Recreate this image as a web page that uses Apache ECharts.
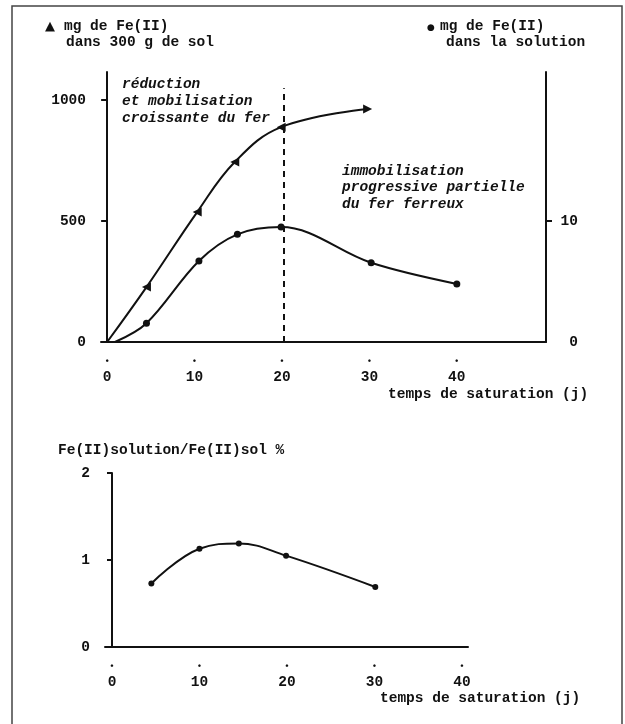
<!DOCTYPE html>
<html>
<head>
<meta charset="utf-8">
<script src="https://cdn.jsdelivr.net/npm/echarts@6/dist/echarts.min.js"></script>
<style>
html,body{margin:0;padding:0;background:#fff;}
#c{width:625px;height:724px;}
</style>
</head>
<body>
<div id="c"></div>
<script>
// ---- data ----
const dayTicks = [0, 10, 20, 30, 40];
const soilTicks = [0, 500, 1000];
const solTicks = [0, 10];
const ratioTicks = [0, 1, 2];

const soilDays = [0, 4.5, 10.3, 14.6, 19.9, 29.8];
const soilFe   = [0, 227, 537, 744, 888, 963];

const solDays = [0.9, 4.5, 10.5, 14.9, 19.9, 30.2, 40.0];
const solFe   = [0, 1.55, 6.7, 8.9, 9.5, 6.55, 4.8];

const ratioDays = [4.5, 10.0, 14.5, 19.9, 30.1];
const ratioPct  = [0.73, 1.13, 1.19, 1.05, 0.69];

const dividerDay = 20.2;
const dividerTop = 1049;

// ---- styles ----
const FONT = '"Liberation Mono", "DejaVu Sans Mono", monospace';
const FS = 14.5;
const INK = '#111';

function pairs(xs, ys, noFirstSymbol) {
  return xs.map((x, i) => {
    const item = { value: [x, ys[i]] };
    if (noFirstSymbol && i === 0) item.symbol = 'none';
    return item;
  });
}

const soilData = pairs(soilDays, soilFe, true).map((d, i, arr) => {
  if (i > 0) d.symbolRotate = (i === arr.length - 1) ? -90 : 90;
  return d;
});

const plain = v => String(v);

const dotLabel = {
  customValues: dayTicks,
  margin: 13,
  color: INK,
  fontFamily: FONT,
  fontWeight: 'bold',
  verticalAlign: 'top',
  formatter: v => '{d|•}\n{v|' + v + '}',
  rich: {
    d: { fontSize: 9, lineHeight: 14, fontFamily: FONT, color: INK },
    v: { fontSize: FS, lineHeight: 16, fontFamily: FONT, fontWeight: 'bold', color: INK }
  }
};

const axisLineStyle = { show: true, lineStyle: { color: INK, width: 2 } };

function txt(x, y, text, extra) {
  return {
    type: 'text', x: x, y: y, silent: true,
    style: Object.assign({
      text: text, fill: INK, font: 'bold ' + FS + 'px ' + FONT,
      verticalAlign: 'middle', align: 'left'
    }, extra || {})
  };
}

const option = {
  animation: false,
  backgroundColor: '#fff',
  grid: [
    { left: 101, top: 72, width: 445, height: 270 },
    { left: 105, top: 473, width: 363, height: 174 }
  ],
  xAxis: [
    {
      gridIndex: 0, type: 'value', min: -0.7, max: 50.2,
      axisLine: axisLineStyle, axisTick: { show: false },
      splitLine: { show: false }, axisLabel: dotLabel
    },
    {
      gridIndex: 1, type: 'value', min: -0.8, max: 40.7,
      axisLine: axisLineStyle, axisTick: { show: false },
      splitLine: { show: false }, axisLabel: dotLabel
    }
  ],
  yAxis: [
    {
      gridIndex: 0, type: 'value', position: 'left', min: 0, max: 1116,
      axisLine: axisLineStyle,
      axisTick: { show: true, customValues: soilTicks, length: 6, lineStyle: { color: INK, width: 2 } },
      axisLabel: { customValues: soilTicks, formatter: plain, margin: 15, color: INK, fontFamily: FONT, fontWeight: 'bold', fontSize: FS },
      splitLine: { show: false }
    },
    {
      gridIndex: 0, type: 'value', position: 'right', min: 0, max: 22.32,
      axisLine: axisLineStyle,
      axisTick: { show: true, customValues: [10], length: 6, lineStyle: { color: INK, width: 2 } },
      axisLabel: { customValues: solTicks, formatter: plain, margin: 32, align: 'right', color: INK, fontFamily: FONT, fontWeight: 'bold', fontSize: FS },
      splitLine: { show: false }
    },
    {
      gridIndex: 1, type: 'value', position: 'left', min: 0, max: 2,
      axisLine: axisLineStyle,
      axisTick: { show: true, customValues: ratioTicks, length: 5, lineStyle: { color: INK, width: 2 } },
      axisLabel: { customValues: ratioTicks, formatter: plain, margin: 15, color: INK, fontFamily: FONT, fontWeight: 'bold', fontSize: FS },
      splitLine: { show: false }
    }
  ],
  series: [
    {
      name: 'mg de Fe(II) dans 300 g de sol', type: 'line',
      xAxisIndex: 0, yAxisIndex: 0, smooth: 0.4,
      data: soilData, symbol: 'triangle', symbolSize: 9,
      lineStyle: { color: INK, width: 2 }, itemStyle: { color: INK },
      markLine: {
        silent: true, symbol: 'none', label: { show: false },
        lineStyle: { color: INK, width: 2, type: [6, 5] },
        data: [[{ coord: [dividerDay, 0] }, { coord: [dividerDay, dividerTop] }]]
      }
    },
    {
      name: 'mg de Fe(II) dans la solution', type: 'line',
      xAxisIndex: 0, yAxisIndex: 1, smooth: 0.35,
      data: pairs(solDays, solFe, true), symbol: 'circle', symbolSize: 7,
      lineStyle: { color: INK, width: 2 }, itemStyle: { color: INK }
    },
    {
      name: 'Fe(II)solution/Fe(II)sol %', type: 'line',
      xAxisIndex: 1, yAxisIndex: 2, smooth: 0.4,
      data: pairs(ratioDays, ratioPct, false), symbol: 'circle', symbolSize: 6,
      lineStyle: { color: INK, width: 2 }, itemStyle: { color: INK }
    }
  ],
  graphic: [
    { type: 'rect', silent: true, shape: { x: 12, y: 6, width: 610, height: 740 },
      style: { fill: 'none', stroke: '#444', lineWidth: 1.5 } },
    txt(45, 27, '▲', { font: 'bold 13px "DejaVu Sans", sans-serif' }),
    txt(64, 26, 'mg de Fe(II)'),
    txt(66, 42, 'dans 300 g de sol'),
    txt(427, 28, '●', { font: 'bold 9px "DejaVu Sans", sans-serif' }),
    txt(440, 26, 'mg de Fe(II)'),
    txt(446, 42, 'dans la solution'),
    txt(122, 84, 'réduction', { font: 'italic bold ' + FS + 'px ' + FONT }),
    txt(122, 101, 'et mobilisation', { font: 'italic bold ' + FS + 'px ' + FONT }),
    txt(122, 118, 'croissante du fer', { font: 'italic bold ' + FS + 'px ' + FONT }),
    txt(342, 171, 'immobilisation', { font: 'italic bold ' + FS + 'px ' + FONT }),
    txt(342, 187, 'progressive partielle', { font: 'italic bold ' + FS + 'px ' + FONT }),
    txt(342, 204, 'du fer ferreux', { font: 'italic bold ' + FS + 'px ' + FONT }),
    txt(388, 394, 'temps de saturation (j)'),
    txt(58, 450, 'Fe(II)solution/Fe(II)sol %'),
    txt(380, 698, 'temps de saturation (j)')
  ]
};

const chart = echarts.init(document.getElementById('c'), null, { renderer: 'canvas' });
chart.setOption(option);
</script>
</body>
</html>
